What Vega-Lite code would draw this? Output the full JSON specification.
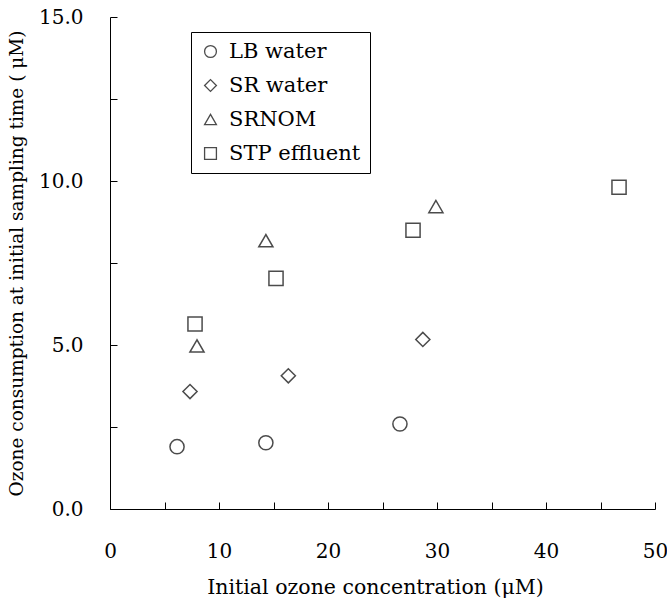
{
  "$schema": "https://vega.github.io/schema/vega-lite/v6.json",
  "width": 545,
  "height": 492,
  "autosize": "none",
  "padding": {"left": 110, "top": 17, "right": 12, "bottom": 91},
  "background": "white",
  "config": {
    "view": {"stroke": null},
    "font": "DejaVu Serif",
    "axis": {
      "grid": false,
      "domainColor": "black",
      "domainWidth": 1,
      "tickColor": "black",
      "tickWidth": 1,
      "tickSize": -7,
      "labelFont": "DejaVu Serif",
      "labelFontSize": 20,
      "labelColor": "black",
      "titleFont": "DejaVu Serif",
      "titleFontWeight": "normal",
      "titleColor": "black"
    },
    "legend": {
      "strokeColor": "black",
      "padding": 9
    }
  },
  "data": {
    "values": [
      {"x": 6.15, "y": 1.9, "sample": "LB water"},
      {"x": 14.3, "y": 2.02, "sample": "LB water"},
      {"x": 26.6, "y": 2.59, "sample": "LB water"},
      {"x": 7.34, "y": 3.58, "sample": "SR water"},
      {"x": 16.36, "y": 4.06, "sample": "SR water"},
      {"x": 28.7, "y": 5.17, "sample": "SR water"},
      {"x": 7.98, "y": 4.97, "sample": "SRNOM"},
      {"x": 14.3, "y": 8.18, "sample": "SRNOM"},
      {"x": 29.9, "y": 9.22, "sample": "SRNOM"},
      {"x": 7.8, "y": 5.64, "sample": "STP effluent"},
      {"x": 15.23, "y": 7.03, "sample": "STP effluent"},
      {"x": 27.8, "y": 8.5, "sample": "STP effluent"},
      {"x": 46.7, "y": 9.81, "sample": "STP effluent"}
    ]
  },
  "mark": {"type": "point", "filled": false, "color": "black", "strokeWidth": 1.5, "size": 200},
  "encoding": {
    "x": {
      "field": "x",
      "type": "quantitative",
      "scale": {"domain": [0, 50], "nice": false, "zero": false},
      "axis": {
        "title": "Initial ozone concentration (μM)",
        "titleFontSize": 20.5,
        "titleX": 265,
        "values": [0, 5, 10, 15, 20, 25, 30, 35, 40, 45, 50],
        "labelExpr": "datum.value % 10 === 0 ? datum.label : ''",
        "labelPadding": 39,
        "titlePadding": 16,
        "labelFlush": false,
        "labelOverlap": false
      }
    },
    "y": {
      "field": "y",
      "type": "quantitative",
      "scale": {"domain": [0, 15], "nice": false, "zero": false},
      "axis": {
        "title": "Ozone consumption at initial sampling time ( μM)",
        "titleFontSize": 18.5,
        "values": [0, 2.5, 5, 7.5, 10, 12.5, 15],
        "format": ".1f",
        "labelExpr": "datum.value % 5 === 0 ? datum.label : ''",
        "labelPadding": 34,
        "titlePadding": 12,
        "labelFlush": false,
        "labelOverlap": false
      }
    },
    "shape": {
      "field": "sample",
      "type": "nominal",
      "scale": {
        "domain": ["LB water", "SR water", "SRNOM", "STP effluent"],
        "range": ["circle", "diamond", "triangle-up", "square"]
      },
      "legend": {
        "title": null,
        "orient": "none",
        "legendX": 81,
        "legendY": 15,
        "rowPadding": 12,
        "symbolStrokeColor": "black",
        "symbolStrokeWidth": 1.3,
        "symbolSize": 140,
        "labelFont": "DejaVu Serif",
        "labelFontSize": 21,
        "labelColor": "black",
        "labelOffset": 8,
        "labelLimit": 300
      }
    }
  }
}
